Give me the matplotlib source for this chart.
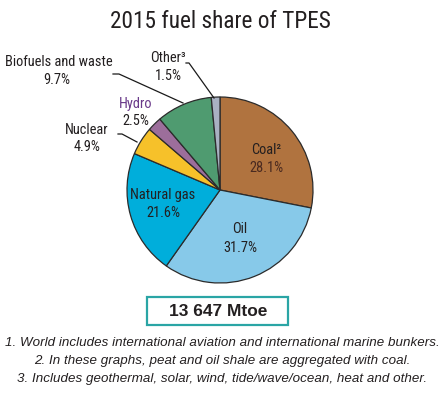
import matplotlib.pyplot as plt
from matplotlib.patches import Rectangle
from matplotlib import font_manager

# data
fuels = ["Coal", "Oil", "Natural gas", "Nuclear", "Hydro", "Biofuels and waste", "Other"]
shares = [28.1, 31.7, 21.6, 4.9, 2.5, 9.7, 1.5]
colors = ["#B0733F", "#87C9E9", "#00AEDB", "#F6C12A", "#9C6E9B", "#4F9B70", "#A9B1C2"]
total_label = "13 647 Mtoe"
notes = [
    "1. World includes international aviation and international marine bunkers.",
    "2. In these graphs, peat and oil shale are aggregated with coal.",
    "3. Includes geothermal, solar, wind, tide/wave/ocean, heat and other.",
]

W, H = 445, 393
fig = plt.figure(figsize=(W / 100, H / 100), dpi=100)
ax = fig.add_axes([0, 0, 1, 1])

narrow = ["Liberation Sans Narrow", "Roboto Condensed", "Open Sans Condensed",
          "DejaVu Sans Condensed", "Liberation Sans", "DejaVu Sans"]
arial = ["Liberation Sans", "DejaVu Sans"]
txt = "#231F20"

# the reference face is taller for its width than what we have
path = font_manager.findfont(font_manager.FontProperties(family=narrow))
boost = 1.12 if ("Narrow" in path or "Condensed" in path) else 1.1

def Y(y):
    # pixel row -> data y
    return H - y

ax.pie(shares, colors=colors, startangle=90, counterclock=False,
       center=(220, Y(190)), radius=93, frame=True,
       wedgeprops=dict(edgecolor="#2b2b2b", linewidth=0.9))
ax.set_xlim(0, W)
ax.set_ylim(0, H)
ax.set_aspect("equal")
ax.axis("off")

renderer = fig.canvas.get_renderer()

def fit_size(s, width, fam):
    # font size that makes text s about `width` pixels wide
    t = fig.text(0, 0, s, fontsize=10, family=fam)
    w = t.get_window_extent(renderer).width
    t.remove()
    return 10 * width / w

def label(x, y, s, size=10, color=txt, fam=narrow, **kw):
    ax.text(x, Y(y), s, ha="center", va="center", fontsize=size, color=color, family=fam, **kw)

label(220, 22, "2015 fuel share of TPES",
      size=min(1.06 * fit_size("2015 fuel share of TPES", 207, narrow), 17))

fs = min(boost * fit_size("Biofuels and waste", 96, narrow), 11)

# labels inside
label(266, 150, "Coal²", fs)
label(266, 168, "%.1f%%" % shares[0], fs, color="#4a2a20")
label(240, 229, "Oil", fs)
label(240, 248, "%.1f%%" % shares[1], fs)
label(163, 195, "Natural gas", fs)
label(163, 213, "%.1f%%" % shares[2], fs)

# outside labels
label(87, 130, "Nuclear", fs)
label(87, 147, "%.1f%%" % shares[3], fs)
label(136, 104, "Hydro", fs, color="#6A3A8A")
label(136, 121, "%.1f%%" % shares[4], fs)
label(59, 62, "Biofuels and waste", fs)
label(57, 80, "%.1f%%" % shares[5], fs)
label(168, 58, "Other³", fs)
label(168, 76, "%.1f%%" % shares[6], fs)

# leader lines
ax.plot([113, 119, 183], [Y(74), Y(74), Y(103)], color="#1a1a1a", lw=0.9)
ax.plot([186, 189, 214], [Y(63), Y(63), Y(98)], color="#1a1a1a", lw=0.9)
ax.plot([118, 122, 137], [Y(134), Y(134), Y(142)], color="#1a1a1a", lw=0.9)

# total box
ax.add_patch(Rectangle((147, Y(325)), 141, 28, fill=False, edgecolor="#2AA5A5", lw=1.6))
label(218, 311, total_label, size=12.5, fam=arial, fontweight="bold")

for i, note in enumerate(notes):
    label(222, 343 + 18 * i, note, size=9.6, fam=arial, style="italic")

fig.savefig("out.png", dpi=100)
